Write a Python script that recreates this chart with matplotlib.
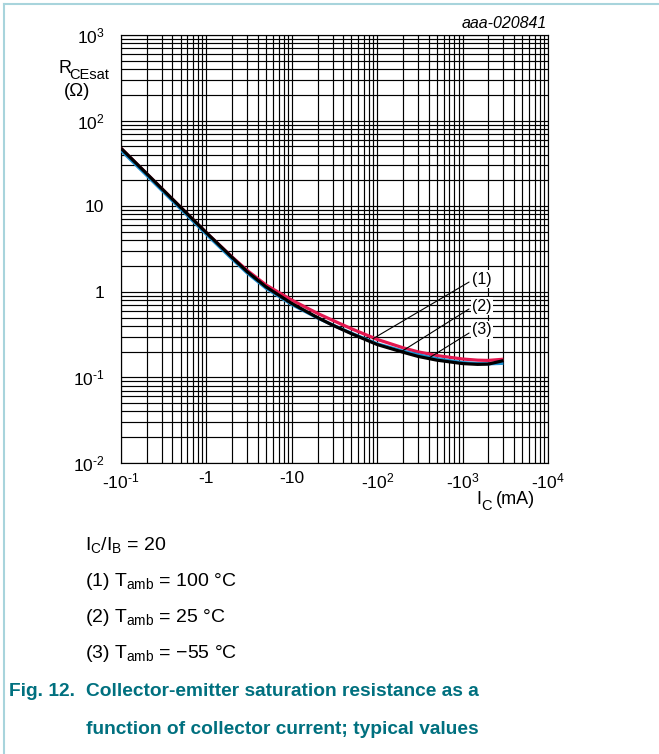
import matplotlib
matplotlib.use("Agg")
import matplotlib.pyplot as plt
from matplotlib.ticker import FixedLocator, FixedFormatter, NullFormatter

plt.rcParams['font.family'] = ['Liberation Sans', 'DejaVu Sans']
plt.rcParams['mathtext.fontset'] = 'custom'
plt.rcParams['mathtext.rm'] = 'Liberation Sans'
plt.rcParams['mathtext.it'] = 'Liberation Sans:italic'

# ---- data (IC magnitude in mA, RCEsat in ohm) ----
ic_ma = [0.1, 0.2, 0.5, 1, 2, 3, 5, 10, 20, 30, 50, 100, 200, 300, 500, 1000, 1500, 2000, 3000]
r_100c = [47.5, 24.0, 9.7, 4.9, 2.55, 1.78, 1.20, 0.80, 0.56, 0.465, 0.37, 0.278, 0.222, 0.199, 0.180, 0.164, 0.159, 0.158, 0.163]
r_25c = [45.0, 22.9, 9.3, 4.7, 2.42, 1.66, 1.10, 0.71, 0.495, 0.41, 0.328, 0.247, 0.203, 0.184, 0.165, 0.149, 0.145, 0.144, 0.146]
r_m55c = [47.5, 24.0, 9.7, 4.9, 2.52, 1.72, 1.14, 0.73, 0.50, 0.408, 0.324, 0.242, 0.197, 0.176, 0.159, 0.145, 0.142, 0.143, 0.157]

HY = '\u2010'
xticks = [0.1, 1, 10, 100, 1000, 10000]
xtick_labels = ['-10$^{\\mathregular{' + HY + '1}}$', '-1', '-10', '-10$^{\\mathregular{2}}$',
                '-10$^{\\mathregular{3}}$', '-10$^{\\mathregular{4}}$']
yticks = [0.01, 0.1, 1, 10, 100, 1000]
ytick_labels = ['10$^{\\mathregular{' + HY + '2}}$', '10$^{\\mathregular{' + HY + '1}}$', '1', '10',
                '10$^{\\mathregular{2}}$', '10$^{\\mathregular{3}}$']

curve_labels = ['(1)', '(2)', '(3)']

W, H = 659, 754
fig = plt.figure(figsize=(W / 100, H / 100), dpi=100)
fig.patch.set_facecolor('white')


def fx(px):
    return px / W


def fy(py):
    return 1 - py / H


ax = fig.add_axes([fx(121), fy(463), (548 - 121) / W, (463 - 35) / H])
ax.set_xscale('log')
ax.set_yscale('log')
ax.set_xlim(0.1, 10000)
ax.set_ylim(0.01, 1000)

# grid: full major + minor
ax.xaxis.set_minor_locator(FixedLocator([m * 10.0 ** e for e in range(-1, 4) for m in range(2, 10)]))
ax.yaxis.set_minor_locator(FixedLocator([m * 10.0 ** e for e in range(-2, 3) for m in range(2, 10)]))
ax.xaxis.set_minor_formatter(NullFormatter())
ax.yaxis.set_minor_formatter(NullFormatter())
ax.grid(True, which='both', color='black', lw=0.85)
ax.set_axisbelow(True)
for s in ax.spines.values():
    s.set_color('black')
    s.set_linewidth(0.85)

ax.xaxis.set_major_locator(FixedLocator(xticks))
ax.xaxis.set_major_formatter(FixedFormatter(xtick_labels))
ax.yaxis.set_major_locator(FixedLocator(yticks))
ax.yaxis.set_major_formatter(FixedFormatter(ytick_labels))
ax.tick_params(which='both', length=0, labelsize=12.5, colors='black')
ax.tick_params(axis='y', pad=12)
ax.tick_params(axis='x', pad=6)

ax.plot(ic_ma, r_100c, color='#e3174f', lw=2.3, solid_capstyle='butt', zorder=3)
ax.plot(ic_ma, r_25c, color='#1e90d2', lw=2.3, solid_capstyle='butt', zorder=4)
ax.plot(ic_ma, r_m55c, color='black', lw=2.3, solid_capstyle='butt', zorder=5)

# curve labels with leaders
label_pos = [(1300, 1.41), (1300, 0.68), (1300, 0.36)]
leader_start = [(1190, 1.30), (1190, 0.63), (1190, 0.33)]
leader_end = [(89, 0.283), (195, 0.202), (394, 0.166)]
for lab, tp, ls, le in zip(curve_labels, label_pos, leader_start, leader_end):
    ax.annotate('', xy=le, xytext=ls,
                arrowprops=dict(arrowstyle='-', color='black', lw=0.8, shrinkA=0, shrinkB=0),
                zorder=6)
    ax.text(tp[0], tp[1], lab, fontsize=11.5, ha='left', va='center', zorder=7,
            bbox=dict(facecolor='white', edgecolor='none', pad=1.0))

# y axis label: R_CEsat / (Ω)
fig.text(fx(58), fy(73), 'R', ha='left', va='baseline', fontsize=13)
fig.text(fx(69.5), fy(79), 'CEsat', ha='left', va='baseline', fontsize=10.5)
fig.text(fx(77), fy(92), '(Ω)', ha='center', va='center', fontsize=13.5)

# x axis label: I_C (mA)
fig.text(fx(476), fy(504), 'I', ha='left', va='baseline', fontsize=13)
fig.text(fx(481.5), fy(510), 'C', ha='left', va='baseline', fontsize=10.5)
fig.text(fx(496), fy(504), '(mA)', ha='left', va='baseline', fontsize=13)

fig.text(fx(547), fy(24), 'aaa-020841', ha='right', va='center', fontsize=11.5, style='italic')

# notes below chart
notes = ['I$_{\\mathregular{C}}$/I$_{\\mathregular{B}}$ = 20',
         '(1) T$_{\\mathregular{amb}}$ = 100 °C',
         '(2) T$_{\\mathregular{amb}}$ = 25 °C',
         '(3) T$_{\\mathregular{amb}}$ = −55 °C']
for i, n in enumerate(notes):
    fig.text(fx(85), fy(545 + 36 * i), n, ha='left', va='center', fontsize=14)

cap_color = '#00707f'
fig.text(fx(9), fy(692), 'Fig. 12.', ha='left', va='center', fontsize=13.8,
         fontweight='bold', color=cap_color)
fig.text(fx(86), fy(692), 'Collector-emitter saturation resistance as a', ha='left',
         va='center', fontsize=13.8, fontweight='bold', color=cap_color)
fig.text(fx(86), fy(729), 'function of collector current; typical values', ha='left',
         va='center', fontsize=13.8, fontweight='bold', color=cap_color)

# light frame at top and left
border = '#a8d4dc'
fig.add_artist(plt.Line2D([fx(4), 1], [fy(4), fy(4)], color=border, lw=1.5, transform=fig.transFigure))
fig.add_artist(plt.Line2D([fx(4), fx(4)], [0, fy(4)], color=border, lw=1.5, transform=fig.transFigure))

fig.savefig('out.png', dpi=100)
